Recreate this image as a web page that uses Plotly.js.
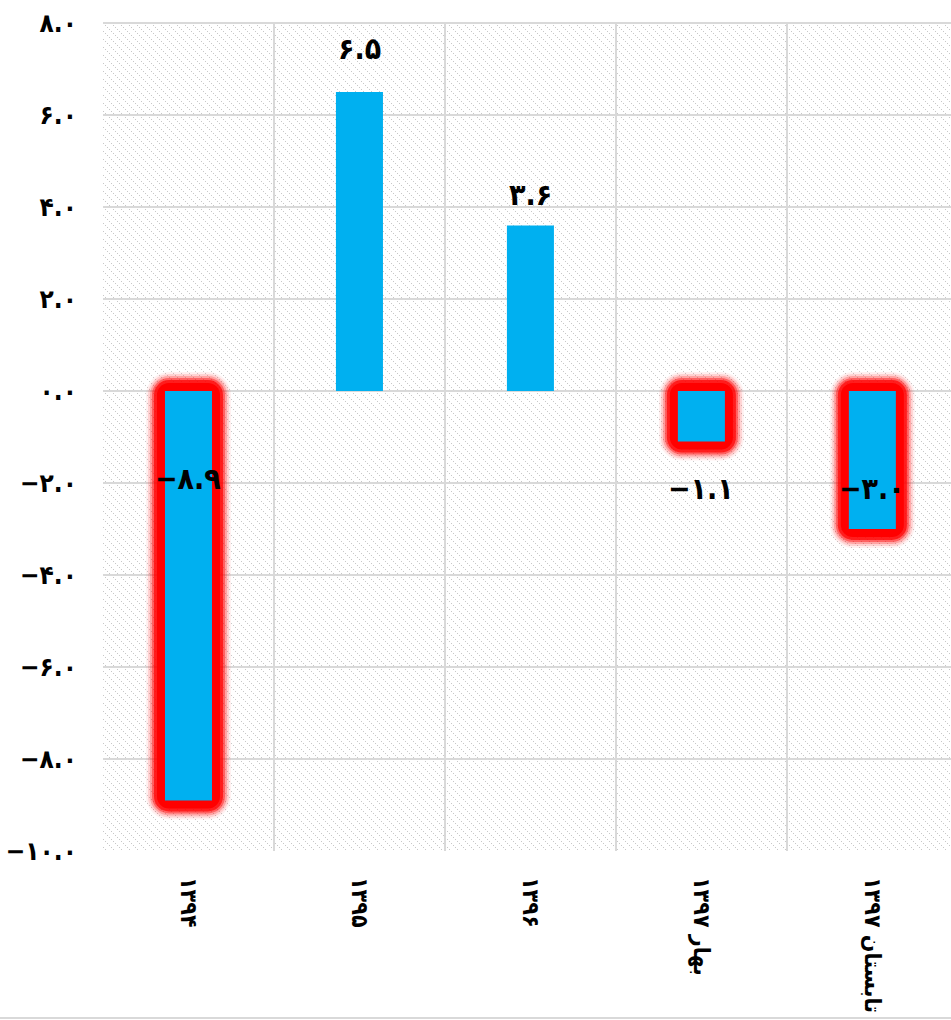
<!DOCTYPE html>
<html>
<head>
<meta charset="utf-8">
<script src="https://cdn.plot.ly/plotly-3.0.1.min.js"></script>
<style>
html,body{margin:0;padding:0;background:#fff;}
#chart{width:951px;height:1020px;}
</style>
</head>
<body>
<div id="chart"></div>
<script>
// ---- data ----
const categories = ['۱۳۹۴', '۱۳۹۵', '۱۳۹۶', 'بهار ۱۳۹۷', 'تابستان ۱۳۹۷'];
const values = [-8.9, 6.5, 3.6, -1.1, -3.0];
const yTickValues = [-10, -8, -6, -4, -2, 0, 2, 4, 6, 8];

// ---- style ----
const W = 951, H = 1020;
const M = {l: 103, r: 0, t: 23, b: 169};
const yRange = [-10, 8];
const xRange = [-0.5, 4.46];
const barWidth = 0.275;
const blue = '#00B0F0';
const labelShift = [-87, 24, 11, -97, -97]; // px offsets of value labels

const plotW = W - M.l - M.r, plotH = H - M.t - M.b;
const pxY = plotH / (yRange[1] - yRange[0]);
const pxX = plotW / (xRange[1] - xRange[0]);

function toFa(s) {
  const d = '۰۱۲۳۴۵۶۷۸۹';
  return String(s).replace(/[0-9]/g, c => d[+c]).replace('-', '−');
}
const fmt = v => toFa(v.toFixed(1));

const font = 'DejaVu Sans Condensed, DejaVu Sans, sans-serif';

// soft red glow for negative bars (stacked translucent layers)
const glowLayers = [
  {pad: 19, op: 0.06},
  {pad: 17, op: 0.12},
  {pad: 15, op: 0.22},
  {pad: 13, op: 0.4},
  {pad: 11, op: 0.7},
  {pad: 8, op: 1.0}
];
const negIdx = values.map((v, i) => v < 0 ? i : -1).filter(i => i >= 0);
const traces = [];
glowLayers.forEach(g => {
  const py = g.pad / pxY;
  traces.push({
    type: 'bar',
    x: negIdx.map(i => categories[i]),
    y: negIdx.map(i => values[i] - 2 * py),
    base: negIdx.map(() => py),
    width: barWidth + 2 * g.pad / pxX,
    marker: {color: 'rgba(255,0,0,' + g.op + ')', cornerradius: g.pad + 4, line: {width: 0}},
    hoverinfo: 'skip',
    showlegend: false
  });
});
traces.push({
  type: 'bar',
  x: categories,
  y: values,
  width: barWidth,
  marker: {color: blue, line: {width: 0}},
  showlegend: false
});

const annotations = values.map((v, i) => ({
  x: categories[i],
  y: v > 0 ? v : 0,
  xref: 'x', yref: 'y',
  text: fmt(v),
  showarrow: false,
  yanchor: v > 0 ? 'bottom' : 'middle',
  yshift: labelShift[i],
  font: {family: font, size: 30, color: '#000', weight: 'bold'}
}));

let dots = '';
for (let k = 0; k < 8; k += 2) dots += "<rect x='" + k + "' y='" + k + "' width='1' height='1'/>";
const hatch = "<svg xmlns='http://www.w3.org/2000/svg' shape-rendering='crispEdges' width='" + plotW + "' height='" + plotH + "'>" +
  "<defs><pattern id='h' width='8' height='8' patternUnits='userSpaceOnUse'><g fill='#c8c8c8'>" + dots +
  "</g></pattern></defs><rect width='100%' height='100%' fill='url(#h)'/></svg>";

const layout = {
  width: W, height: H,
  margin: M,
  paper_bgcolor: '#ffffff',
  plot_bgcolor: 'rgba(0,0,0,0)',
  barmode: 'overlay',
  showlegend: false,
  font: {family: font, color: '#000'},
  xaxis: {
    type: 'category',
    categoryorder: 'array',
    categoryarray: categories,
    range: xRange,
    tickson: 'boundaries',
    showgrid: true,
    gridcolor: '#d9d9d9',
    gridwidth: 2,
    tickangle: 90,
    ticks: '',
    ticklabelstandoff: 25,
    tickfont: {family: font, size: 23, color: '#000', weight: 'bold'},
    showline: false,
    zeroline: false,
    fixedrange: true
  },
  yaxis: {
    range: yRange,
    tickmode: 'array',
    tickvals: yTickValues,
    ticktext: yTickValues.map(fmt),
    showgrid: true,
    gridcolor: '#d9d9d9',
    gridwidth: 2,
    zeroline: true,
    zerolinecolor: '#d9d9d9',
    zerolinewidth: 2,
    ticks: '',
    ticklabelstandoff: 25,
    tickfont: {family: font, size: 26, color: '#000', weight: 'bold'},
    showline: false,
    fixedrange: true
  },
  images: [{
    source: 'data:image/svg+xml;charset=utf-8,' + encodeURIComponent(hatch),
    xref: 'paper', yref: 'paper',
    x: 0, y: 1, sizex: 1, sizey: 1,
    xanchor: 'left', yanchor: 'top',
    sizing: 'stretch', layer: 'below'
  }],
  shapes: [{
    type: 'line', xref: 'paper', yref: 'paper',
    x0: -M.l / plotW, x1: 1, y0: -(M.b - 2) / plotH, y1: -(M.b - 2) / plotH,
    line: {color: '#d9d9d9', width: 2}
  }, {
    type: 'line', xref: 'paper', yref: 'paper',
    x0: 0, x1: 1, y0: 1, y1: 1,
    line: {color: '#d9d9d9', width: 2}
  }],
  annotations: annotations
};

Plotly.newPlot('chart', traces, layout, {displayModeBar: false, staticPlot: true});
</script>
</body>
</html>
